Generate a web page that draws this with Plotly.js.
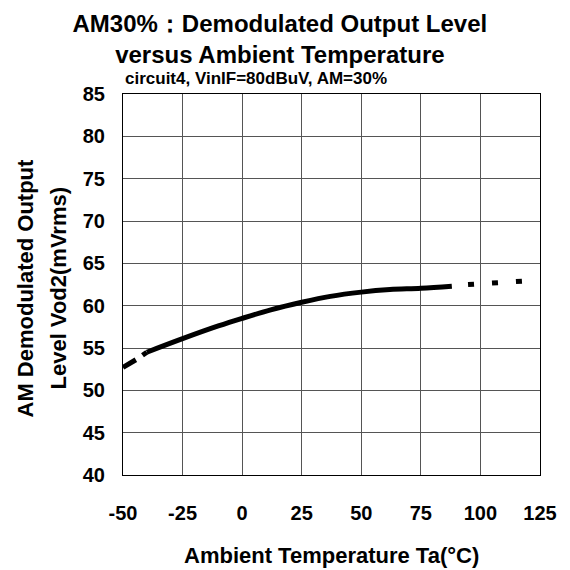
<!DOCTYPE html>
<html>
<head>
<meta charset="utf-8">
<script src="https://cdn.plot.ly/plotly-3.0.1.min.js"></script>
<style>html,body{margin:0;padding:0;background:#fff;}#chart{width:570px;height:570px;}</style>
</head>
<body>
<div id="chart"></div>
<script>
// Dashed start segment
var tempDash = [-50, -46, -43.5, -40];
var valDash = [52.7, 53.3, 53.8, 54.5];
// Solid main segment
var tempSolid = [-40, -25, -10, 0, 12, 25, 37, 50, 62, 75, 88];
var valSolid = [54.5, 56.1, 57.6, 58.5, 59.5, 60.4, 61.1, 61.6, 61.9, 62.05, 62.3];
// Dotted end segment
var tempDot = [94.8, 106, 118.3];
var valDot = [62.5, 62.7, 62.9];

var xTicks = [-50, -25, 0, 25, 50, 75, 100, 125];
var yTicks = [40, 45, 50, 55, 60, 65, 70, 75, 80, 85];

var titleText = 'AM30%：Demodulated Output Level<br>versus Ambient Temperature';
var subtitleText = 'circuit4, VinIF=80dBuV, AM=30%';
var xTitleText = 'Ambient Temperature Ta(°C)';
var yTitleLines = ['AM Demodulated Output', 'Level Vod2(mVrms)'];

var lineStyle = {color: '#000', width: 5};
var traces = [
  {x: tempDash, y: valDash, mode: 'lines', line: Object.assign({dash: '15px,8px'}, lineStyle), hoverinfo: 'skip'},
  {x: tempSolid, y: valSolid, mode: 'lines', line: Object.assign({shape: 'spline'}, lineStyle), hoverinfo: 'skip'},
  {x: tempDot, y: valDot, mode: 'lines', line: Object.assign({dash: '6px,18px'}, lineStyle), hoverinfo: 'skip'}
];

var font = 'Liberation Sans, Arial, sans-serif';
var bold = function (s) { return '<b>' + s + '</b>'; };
var layout = {
  width: 570, height: 570,
  margin: {l: 123, r: 30, t: 94, b: 95},
  paper_bgcolor: '#fff', plot_bgcolor: '#fff',
  showlegend: false,
  font: {family: font, color: '#000'},
  title: {
    text: bold(titleText),
    font: {family: font, size: 24, color: '#000'},
    x: 0.491, xanchor: 'center', xref: 'container',
    y: 1 - 31.5 / 570, yanchor: 'middle', yref: 'container'
  },
  xaxis: {
    range: [-50, 125], tickvals: xTicks, ticktext: xTicks.map(function (v) { return bold(v); }),
    showgrid: true, gridcolor: '#555', gridwidth: 1,
    zeroline: false, showline: true, linecolor: '#000', linewidth: 1, mirror: true,
    ticks: 'outside', ticklen: 20, tickcolor: 'rgba(0,0,0,0)',
    tickfont: {family: font, size: 20, color: '#000'}
  },
  yaxis: {
    range: [40, 85], tickvals: yTicks, ticktext: yTicks.map(function (v) { return bold(v); }),
    showgrid: true, gridcolor: '#555', gridwidth: 1,
    zeroline: false, showline: true, linecolor: '#000', linewidth: 1, mirror: true,
    ticks: 'outside', ticklen: 13, tickcolor: 'rgba(0,0,0,0)',
    tickfont: {family: font, size: 20, color: '#000'}
  },
  annotations: [
    {text: bold(subtitleText), xref: 'paper', yref: 'paper', x: 0, y: 1,
     xanchor: 'left', yanchor: 'middle', yshift: 16, showarrow: false,
     font: {family: font, size: 17, color: '#000'}},
    {text: bold(xTitleText), xref: 'paper', yref: 'paper', x: 0.5, y: 0,
     xanchor: 'center', yanchor: 'middle', yshift: -80, showarrow: false,
     font: {family: font, size: 22, color: '#000'}},
    {text: bold(yTitleLines[0]), xref: 'paper', yref: 'paper', x: 0, y: 0.5,
     xanchor: 'center', yanchor: 'middle', xshift: -98, yshift: -4, textangle: -90, showarrow: false,
     font: {family: font, size: 22, color: '#000'}},
    {text: bold(yTitleLines[1]), xref: 'paper', yref: 'paper', x: 0, y: 0.5,
     xanchor: 'center', yanchor: 'middle', xshift: -65, yshift: -4, textangle: -90, showarrow: false,
     font: {family: font, size: 22, color: '#000'}}
  ]
};

Plotly.newPlot('chart', traces, layout, {staticPlot: true, displayModeBar: false});
</script>
</body>
</html>
